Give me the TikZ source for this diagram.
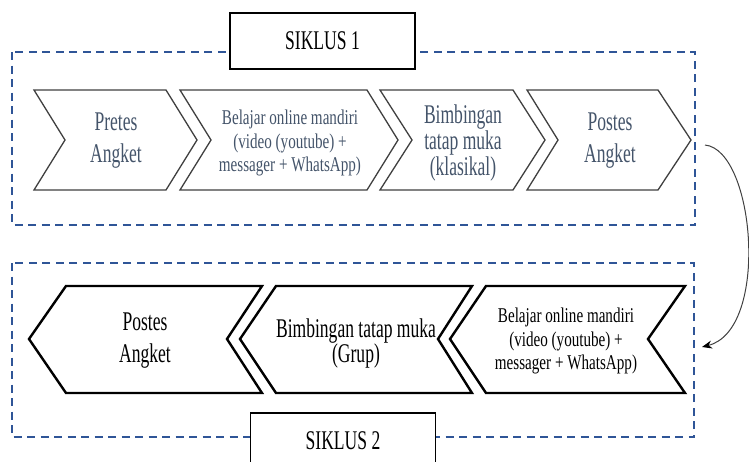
\documentclass[tikz,border=0pt]{standalone}
\usepackage{fontspec}
\setmainfont{Liberation Serif}
\newfontfamily\condfont[FakeStretch=0.65]{Liberation Serif}
\newfontfamily\condfontb[FakeStretch=0.72]{Liberation Serif}
\usetikzlibrary{arrows.meta}
\definecolor{dashblue}{RGB}{47,85,151}
\definecolor{textblue}{RGB}{68,84,106}
\definecolor{edgegray}{RGB}{64,64,64}

\begin{document}
\begin{tikzpicture}[x=1pt,y=-1pt,
  cycbox/.style={draw=dashblue,line width=2pt,dash pattern=on 8pt off 5.5pt},
  chevtop/.style={draw=edgegray,fill=white,line width=1.3pt,line join=miter},
  chevbot/.style={draw=black,fill=white,line width=2.4pt,line join=miter},
  siklus/.style={draw=black,fill=white,line width=1.2pt,minimum width=185pt,minimum height=56pt,
    font=\condfont\fontsize{27}{32}\selectfont},
  bigtext/.style={align=center,inner sep=0pt,font=\condfont\fontsize{27}{32}\selectfont},
  midtext/.style={align=center,inner sep=0pt,font=\condfont\fontsize{27}{24}\selectfont},
  smalltext/.style={align=center,inner sep=0pt,font=\condfontb\fontsize{21}{23.5}\selectfont}]
  \useasboundingbox (0,0) rectangle (749,461);

  % siklus 1
  \draw[cycbox] (12,52) rectangle (695,225);
  \node[siklus] (s1) at (322.5,41) {SIKLUS 1};
  \draw[chevtop] (34,90) -- (166,90) -- (197,140) -- (166,190) -- (34,190) -- (65,140) -- cycle;
  \draw[chevtop] (180,90) -- (367,90) -- (398,140) -- (367,190) -- (180,190) -- (211,140) -- cycle;
  \draw[chevtop] (380,90) -- (513,90) -- (545,140) -- (513,190) -- (380,190) -- (412,140) -- cycle;
  \draw[chevtop] (527,90) -- (658,90) -- (691,140) -- (658,190) -- (527,190) -- (558,140) -- cycle;
  \node[bigtext,text=textblue] (pre1) at (116,141) {Pretes\\Angket};
  \node[smalltext,text=textblue] (onl1) at (290,143) {Belajar online mandiri\\(video (youtube) +\\messager + WhatsApp)};
  \node[midtext,text=textblue] (bim1) at (463,143) {Bimbingan\\tatap muka\\(klasikal)};
  \node[bigtext,text=textblue] (pos1) at (610,141) {Postes\\Angket};

  % siklus 2
  \draw[cycbox] (12,263) rectangle (694,437);
  \node[siklus] (s2) at (343,441) {SIKLUS 2};
  \draw[chevbot] (685,286) -- (486,286) -- (450,339) -- (486,393) -- (685,393) -- (648,339) -- cycle;
  \draw[chevbot] (472,286) -- (276,286) -- (240,339) -- (276,393) -- (472,393) -- (438,339) -- cycle;
  \draw[chevbot] (262,286) -- (66,286) -- (29,339) -- (66,393) -- (262,393) -- (227,339) -- cycle;
  \node[smalltext] (onl2) at (566,341) {Belajar online mandiri\\(video (youtube) +\\messager + WhatsApp)};
  \node[midtext] (bim2) at (356,343.5) {Bimbingan tatap muka\\(Grup)};
  \node[bigtext] (pos2) at (145,341) {Postes\\Angket};

  % arrow between cycles
  \coordinate (from) at (705,145);
  \coordinate (to) at (702,347);
  \draw[edgegray,line width=1pt,-{Stealth[length=10pt,width=8pt,black]}]
    (from) .. controls (755,150) and (770,330) .. (to);
\end{tikzpicture}
\end{document}
